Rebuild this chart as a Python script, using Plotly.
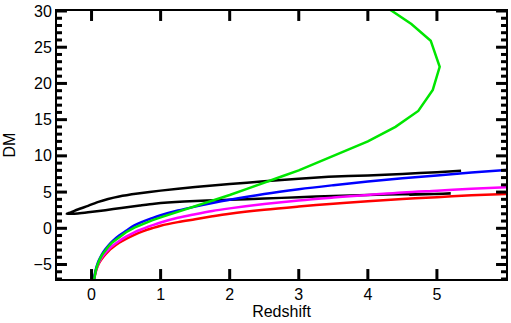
import plotly.graph_objects as go

# Redshift samples and distance-modulus values for each model curve
z_low = [0.033, 0.04, 0.05, 0.06, 0.08, 0.1, 0.12, 0.15, 0.2, 0.25, 0.3, 0.4, 0.5, 0.62, 0.75, 0.875, 1.0, 1.25, 1.5, 1.75, 2.0,
         2.5, 3.0, 3.5, 4.0, 4.5, 5.0, 5.5, 6.0]

dm_red = [-7.3, -6.9, -6.45, -6.05, -5.45, -5.0, -4.65, -4.2, -3.6, -3.1, -2.7, -2.0, -1.45, -0.9, -0.4, 0.0, 0.35, 0.85, 1.25,
          1.65, 2.0, 2.55, 3.0, 3.4, 3.75, 4.05, 4.3, 4.55, 4.74]
dm_magenta = [-7.3, -6.85, -6.35, -5.95, -5.35, -4.85, -4.5, -4.0, -3.4, -2.9, -2.45, -1.75, -1.15, -0.55, -0.05, 0.4, 0.8,
              1.45, 1.95, 2.4, 2.75, 3.35, 3.85, 4.25, 4.6, 4.95, 5.2, 5.45, 5.66]
dm_blue = [-7.3, -6.75, -6.2, -5.75, -5.1, -4.55, -4.15, -3.6, -2.9, -2.3, -1.8, -1.0, -0.35, 0.4, 0.95, 1.4, 1.8, 2.45, 3.0,
           3.5, 3.95, 4.75, 5.4, 5.95, 6.45, 6.9, 7.3, 7.7, 8.05]

# Green model bends back in redshift at large distance modulus
z_green = [0.033, 0.04, 0.05, 0.06, 0.08, 0.1, 0.12, 0.15, 0.2, 0.25, 0.3, 0.4, 0.5, 0.62, 0.75, 0.875, 1.0, 1.25, 1.5, 1.75,
           2.0, 2.25, 2.5, 2.75, 3.0, 3.5, 4.0, 4.4, 4.73, 4.94, 5.04, 4.91, 4.63, 4.35, 4.1]
dm_green = [-7.3, -6.8, -6.3, -5.85, -5.2, -4.65, -4.25, -3.7, -3.0, -2.45, -1.95, -1.2, -0.55, 0.1, 0.65, 1.1, 1.5, 2.25,
            3.0, 3.75, 4.6, 5.45, 6.35, 7.15, 8.0, 10.0, 12.0, 14.0, 16.2, 19.1, 22.3, 25.9, 28.2, 30.0, 31.5]

# Black model: loop with a turning point at negative redshift
z_black = [5.35, 5.0, 4.5, 4.0, 3.43, 3.0, 2.5, 2.0, 1.5, 1.0, 0.67, 0.4, 0.24, 0.1, -0.05, -0.2, -0.3, -0.36,
           -0.3, -0.2, -0.05, 0.2, 0.43, 0.7, 0.91, 1.34, 2.0, 2.5, 3.0, 3.5, 4.0, 4.5, 5.0, 5.2, 4.6]
dm_black = [7.96, 7.75, 7.5, 7.3, 7.1, 6.85, 6.5, 6.1, 5.7, 5.2, 4.8, 4.4, 4.05, 3.65, 3.1, 2.6, 2.2, 2.0,
            2.0, 2.05, 2.2, 2.5, 2.8, 3.15, 3.4, 3.7, 3.95, 4.1, 4.3, 4.45, 4.6, 4.7, 4.75, 4.8, 4.62]

x_ticks = [0, 1, 2, 3, 4, 5]
y_ticks = [-5, 0, 5, 10, 15, 20, 25, 30]
y_minor_ticks = [v for v in range(-7, 31) if v % 5 != 0]

x_range = [-0.5, 6]
y_range = [-7, 30]

W, H = 511, 323
margin = dict(l=57, r=3, t=10, b=44)
plot_w = W - margin["l"] - margin["r"]
plot_h = H - margin["t"] - margin["b"]
# data units per screen pixel on each axis
x_per_px = (x_range[1] - x_range[0]) / plot_w
y_per_px = (y_range[1] - y_range[0]) / plot_h

fig = go.Figure()
lw = 2.5
fig.add_trace(go.Scatter(x=z_black, y=dm_black, mode="lines",
                         line=dict(color="black", width=lw, shape="spline", smoothing=0.6)))
fig.add_trace(go.Scatter(x=z_low, y=dm_red, mode="lines", line=dict(color="#ff0000", width=lw, shape="spline")))
fig.add_trace(go.Scatter(x=z_low, y=dm_magenta, mode="lines", line=dict(color="#ff00ff", width=lw, shape="spline")))
fig.add_trace(go.Scatter(x=z_low, y=dm_blue, mode="lines", line=dict(color="#0000ff", width=lw, shape="spline")))
fig.add_trace(go.Scatter(x=z_green, y=dm_green, mode="lines", line=dict(color="#00e600", width=lw)))

# Inward tick marks on all four sides of the frame
tx, ty = [], []
for v in x_ticks:
    for base, sign in ((y_range[0], 1), (y_range[1], -1)):
        tx += [v, v, None]
        ty += [base, base + sign * 10 * y_per_px, None]
for vals, length in ((y_ticks, 10), (y_minor_ticks, 5)):
    for v in vals:
        for base, sign in ((x_range[0], 1), (x_range[1], -1)):
            tx += [base, base + sign * length * x_per_px, None]
            ty += [v, v, None]
fig.add_trace(go.Scatter(x=tx, y=ty, mode="lines", line=dict(color="black", width=3),
                         hoverinfo="skip", connectgaps=False))

font_family = "Liberation Sans, Arial, sans-serif"

fig.update_layout(
    width=W, height=H,
    margin=margin,
    paper_bgcolor="white", plot_bgcolor="white",
    showlegend=False,
    font=dict(family=font_family, size=16, color="black"),
)

fig.update_xaxes(
    range=x_range, tickmode="array", tickvals=x_ticks,
    showline=True, linecolor="black", linewidth=2, mirror=True,
    ticks="", showgrid=False, zeroline=False,
    tickfont=dict(family=font_family, size=16, color="black"),
    title=dict(text="Redshift", standoff=4, font=dict(size=16)),
)
fig.update_yaxes(
    range=y_range, tickmode="array", tickvals=y_ticks,
    showline=True, linecolor="black", linewidth=2, mirror=True,
    ticks="", showgrid=False, zeroline=False,
    tickfont=dict(family=font_family, size=16, color="black"),
    title=dict(text="DM", standoff=14, font=dict(size=16)),
)

fig.write_html("out.html")
